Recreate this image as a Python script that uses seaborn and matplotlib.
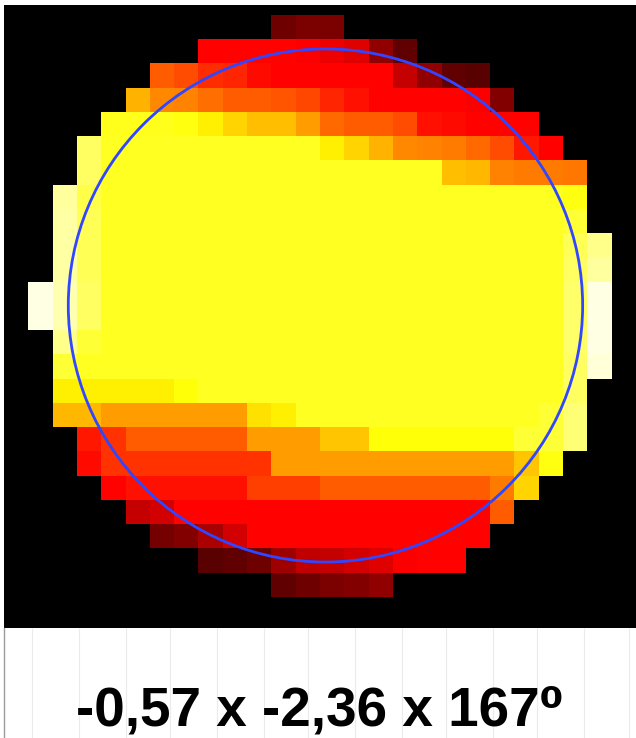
import numpy as np
import matplotlib
matplotlib.use("Agg")
import matplotlib.pyplot as plt
import seaborn as sns
from matplotlib.patches import Circle

# Intensity map of the spot: for each grid row, the first occupied column
# and the intensities from there on (0 = black ... 1 = white on the "hot" scale).
row_start = [10, 7, 5, 4, 3, 2, 2, 1, 1, 1, 1, 0, 0, 1, 1, 1, 1, 2, 2, 3, 4, 5, 7, 10]

row_values = [
    [0.15, 0.17, 0.17],
    [0.37, 0.37, 0.37, 0.37, 0.36, 0.34, 0.32, 0.20, 0.13],
    [0.50, 0.48, 0.43, 0.42, 0.38, 0.37, 0.37, 0.37, 0.37, 0.37, 0.28, 0.20, 0.13, 0.12],
    [0.63, 0.57, 0.56, 0.53, 0.50, 0.50, 0.49, 0.47, 0.42, 0.39, 0.37, 0.37, 0.37, 0.37,
     0.36, 0.18],
    [0.77, 0.77, 0.77, 0.76, 0.72, 0.68, 0.65, 0.65, 0.60, 0.52, 0.50, 0.50, 0.48, 0.39,
     0.38, 0.37, 0.37, 0.37],
    [0.84, 0.78, 0.78, 0.78, 0.78, 0.78, 0.78, 0.78, 0.78, 0.78, 0.72, 0.68, 0.63, 0.57,
     0.56, 0.55, 0.52, 0.48, 0.40, 0.37],
    [0.84, 0.78, 0.78, 0.78, 0.78, 0.78, 0.78, 0.78, 0.78, 0.78, 0.78, 0.78, 0.78, 0.78,
     0.78, 0.65, 0.64, 0.56, 0.55, 0.55, 0.54],
    [0.90, 0.82, 0.78, 0.78, 0.78, 0.78, 0.78, 0.78, 0.78, 0.78, 0.78, 0.78, 0.78, 0.78,
     0.78, 0.78, 0.78, 0.78, 0.78, 0.78, 0.78, 0.76],
    [0.91, 0.83, 0.78, 0.78, 0.78, 0.78, 0.78, 0.78, 0.78, 0.78, 0.78, 0.78, 0.78, 0.78,
     0.78, 0.78, 0.78, 0.78, 0.78, 0.78, 0.78, 0.80],
    [0.91, 0.83, 0.78, 0.78, 0.78, 0.78, 0.78, 0.78, 0.78, 0.78, 0.78, 0.78, 0.78, 0.78,
     0.78, 0.78, 0.78, 0.78, 0.78, 0.78, 0.78, 0.83, 0.88],
    [0.91, 0.83, 0.78, 0.78, 0.78, 0.78, 0.78, 0.78, 0.78, 0.78, 0.78, 0.78, 0.78, 0.78,
     0.78, 0.78, 0.78, 0.78, 0.78, 0.78, 0.78, 0.84, 0.90],
    [0.97, 0.92, 0.84, 0.78, 0.78, 0.78, 0.78, 0.78, 0.78, 0.78, 0.78, 0.78, 0.78, 0.78,
     0.78, 0.78, 0.78, 0.78, 0.78, 0.78, 0.78, 0.78, 0.85, 0.97],
    [0.97, 0.92, 0.84, 0.78, 0.78, 0.78, 0.78, 0.78, 0.78, 0.78, 0.78, 0.78, 0.78, 0.78,
     0.78, 0.78, 0.78, 0.78, 0.78, 0.78, 0.78, 0.78, 0.85, 0.97],
    [0.88, 0.80, 0.78, 0.78, 0.78, 0.78, 0.78, 0.78, 0.78, 0.78, 0.78, 0.78, 0.78, 0.78,
     0.78, 0.78, 0.78, 0.78, 0.78, 0.78, 0.78, 0.85, 0.97],
    [0.80, 0.78, 0.78, 0.78, 0.78, 0.78, 0.78, 0.78, 0.78, 0.78, 0.78, 0.78, 0.78, 0.78,
     0.78, 0.78, 0.78, 0.78, 0.78, 0.78, 0.78, 0.84, 0.96],
    [0.72, 0.72, 0.72, 0.72, 0.72, 0.75, 0.78, 0.78, 0.78, 0.78, 0.78, 0.78, 0.78, 0.78,
     0.78, 0.78, 0.78, 0.78, 0.78, 0.78, 0.78, 0.84],
    [0.64, 0.64, 0.60, 0.60, 0.60, 0.60, 0.60, 0.60, 0.70, 0.72, 0.78, 0.78, 0.78, 0.78,
     0.78, 0.78, 0.78, 0.78, 0.78, 0.78, 0.80, 0.86],
    [0.40, 0.44, 0.50, 0.50, 0.50, 0.50, 0.50, 0.60, 0.60, 0.60, 0.66, 0.66, 0.75, 0.75,
     0.75, 0.75, 0.75, 0.75, 0.80, 0.80, 0.86],
    [0.38, 0.44, 0.44, 0.44, 0.44, 0.44, 0.44, 0.44, 0.60, 0.60, 0.60, 0.60, 0.60, 0.60,
     0.60, 0.60, 0.60, 0.60, 0.66, 0.76],
    [0.37, 0.39, 0.39, 0.39, 0.39, 0.39, 0.46, 0.46, 0.46, 0.50, 0.50, 0.50, 0.50, 0.50,
     0.50, 0.50, 0.55, 0.68],
    [0.28, 0.30, 0.37, 0.37, 0.37, 0.37, 0.37, 0.37, 0.37, 0.37, 0.37, 0.37, 0.37, 0.37,
     0.37, 0.50],
    [0.16, 0.18, 0.24, 0.30, 0.37, 0.37, 0.37, 0.37, 0.37, 0.37, 0.37, 0.37, 0.37, 0.37],
    [0.12, 0.13, 0.15, 0.22, 0.27, 0.28, 0.30, 0.32, 0.36, 0.37, 0.37],
    [0.13, 0.15, 0.17, 0.18, 0.20],
]

caption = "-0,57 x -2,36 x 167\u2070"

N_ROWS, N_COLS = 24, 24
grid = np.full((N_ROWS, N_COLS), np.nan)
for r, (start, vals) in enumerate(zip(row_start, row_values)):
    grid[r, start:start + len(vals)] = vals

W, H = 636, 738
fig = plt.figure(figsize=(W / 100, H / 100), dpi=100, facecolor="white")


def px_box(x0, y0, x1, y1):
    return [x0 / W, 1 - y1 / H, (x1 - x0) / W, (y1 - y0) / H]


# map panel
ax = fig.add_axes(px_box(4, 5, 636, 628))
ax.set_facecolor("black")
sns.heatmap(grid, ax=ax, cmap="hot", vmin=0, vmax=1, cbar=False,
            xticklabels=False, yticklabels=False, linewidths=0)
ax.set_xlim(-1.0, 25.0)
ax.set_ylim(25.28, -0.412)
ax.set_facecolor("black")
for sp in ax.spines.values():
    sp.set_visible(False)
ax.tick_params(length=0)

# reference aperture
ax.add_patch(Circle((12.225, 11.98), 10.58, fill=False,
                    edgecolor="#3046ff", lw=2.0, zorder=5))

# caption strip
ax2 = fig.add_axes(px_box(4, 628, 636, 738))
ax2.set_facecolor("white")
ax2.set_xlim(4, 636)
ax2.set_ylim(0, 1)
ax2.vlines([32, 79, 126, 170, 217, 264, 308, 355, 402, 446, 493, 537, 584, 629],
           0, 1, color="#ebebeb", lw=0.8)
ax2.set_xticks([])
ax2.set_yticks([])
for name, sp in ax2.spines.items():
    sp.set_visible(name == "left")
ax2.spines["left"].set_color("#9a9a9a")
ax2.spines["left"].set_linewidth(1.0)

fig.text(320 / W, 1 - 726 / H, caption, ha="center", va="baseline",
         fontsize=39.5, fontweight="bold",
         family=["Liberation Sans", "DejaVu Sans"], color="black")

fig.savefig("out.png", dpi=100, facecolor="white")
